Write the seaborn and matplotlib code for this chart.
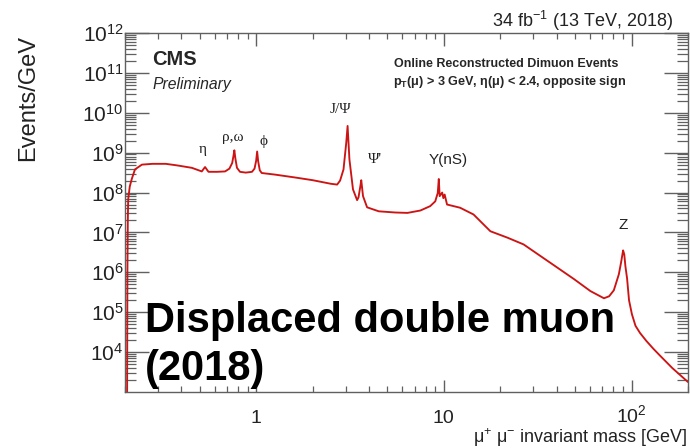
import numpy as np
import pandas as pd
import matplotlib
matplotlib.use("Agg")
import matplotlib.pyplot as plt
from matplotlib.ticker import LogLocator, FixedLocator, FixedFormatter, NullFormatter, FuncFormatter
import seaborn as sns

# Dimuon invariant-mass spectrum (GeV) and event density (log10 Events/GeV)
mass = [0.205, 0.206, 0.207, 0.208, 0.212, 0.217, 0.226, 0.246, 0.28, 0.33,
        0.38, 0.454, 0.513, 0.534, 0.557, 0.62, 0.683, 0.72, 0.745, 0.757,
        0.765, 0.775, 0.79, 0.82, 0.88, 0.95, 0.98, 1.0, 1.012, 1.025,
        1.045, 1.07, 1.26, 1.6, 2.0, 2.5, 2.7, 2.8, 2.92, 3.02,
        3.07, 3.14, 3.28, 3.45, 3.51, 3.59, 3.63, 3.71, 3.9, 4.5,
        5.5, 6.4, 7.5, 8.46, 9.0, 9.28, 9.4, 9.5, 9.8, 9.94,
        10.1, 10.4, 12.2, 14.4, 17.7, 21.8, 26.6, 32.7, 40.2, 49.4,
        60.4, 71.3, 76.0, 80.5, 85.6, 88.0, 90.2, 91.5, 92.8, 94.7,
        97.0, 100.5, 105.0, 111.0, 120.0, 131.0, 142.0, 165.0, 200.0]
log_events = [2.0, 6.0, 7.3, 7.83, 8.15, 8.33, 8.58, 8.70, 8.72, 8.72,
              8.68, 8.62, 8.53, 8.64, 8.52, 8.52, 8.53, 8.60, 8.74, 8.92,
              9.06, 8.85, 8.62, 8.52, 8.50, 8.52, 8.60, 8.80, 9.03, 8.78,
              8.56, 8.49, 8.45, 8.38, 8.31, 8.22, 8.20, 8.30, 8.58, 9.25,
              9.67, 8.83, 8.08, 7.81, 7.88, 8.16, 8.31, 7.91, 7.63, 7.53,
              7.50, 7.49, 7.55, 7.66, 7.78, 7.99, 8.34, 7.91, 8.0, 7.86,
              7.95, 7.70, 7.62, 7.45, 7.03, 6.87, 6.70, 6.41, 6.12, 5.83,
              5.53, 5.35, 5.40, 5.55, 5.95, 6.25, 6.55, 6.45, 6.15, 5.85,
              5.30, 4.95, 4.66, 4.48, 4.28, 4.08, 3.91, 3.60, 3.25]

# Resonance labels: text, mass, height, font style
peak_labels = [("η", 0.52, 1.19e9, "serif"),
               ("ρ,ω", 0.754, 2.37e9, "serif"),
               ("ϕ", 1.09, 1.88e9, "serif"),
               ("J/Ψ", 2.81, 1.19e10, "serif"),
               ("Ψ'", 4.31, 6.7e8, "serif"),
               ("Y(nS)", 10.6, 6.7e8, "sans"),
               ("Z", 90.6, 1.58e7, "sans")]

x_major = [1, 10, 100]
x_major_labels = ["1", "10", r"$10^{2}$"]

sns.set_style("ticks")
plt.rcParams["font.family"] = ["Liberation Sans", "DejaVu Sans"]
plt.rcParams["mathtext.fontset"] = "custom"
plt.rcParams["mathtext.rm"] = "Liberation Sans"
plt.rcParams["mathtext.it"] = "Liberation Sans:italic"
plt.rcParams["mathtext.bf"] = "Liberation Sans:bold"

df = pd.DataFrame({"mass": mass, "events": np.power(10.0, log_events)})

fig = plt.figure(figsize=(6.9, 4.48), dpi=100)
ax = fig.add_axes([125 / 690, 1 - 392 / 448, 563 / 690, 359 / 448])

sns.lineplot(data=df, x="mass", y="events", ax=ax, color="#cc1414",
             linewidth=1.35, estimator=None, sort=False)

ax.set_xscale("log")
ax.set_yscale("log")
ax.set_xlim(0.2, 200)
ax.set_ylim(1e3, 1e12)
ax.set_xlabel("")
ax.set_ylabel("")

frame = "#606060"
for s in ax.spines.values():
    s.set_color(frame)
    s.set_linewidth(1.0)
    s.set_visible(True)

ax.xaxis.set_major_locator(FixedLocator(x_major))
ax.xaxis.set_major_formatter(FixedFormatter(x_major_labels))
ax.xaxis.set_minor_locator(LogLocator(base=10, subs=np.arange(2, 10), numticks=20))
ax.xaxis.set_minor_formatter(NullFormatter())
ax.yaxis.set_major_locator(FixedLocator([10.0 ** k for k in range(4, 13)]))
ax.yaxis.set_minor_locator(LogLocator(base=10, subs=np.arange(2, 10), numticks=20))
ax.yaxis.set_minor_formatter(NullFormatter())
ax.yaxis.set_major_formatter(
    FuncFormatter(lambda v, p: r"$10^{%d}$" % round(np.log10(v))))

ax.tick_params(axis="x", which="major", direction="in", length=9, width=1.0,
               color=frame, top=True, bottom=True, labelsize=14,
               labelcolor="#222222", pad=22)
ax.tick_params(axis="x", which="minor", direction="in", length=4.5, width=0.9,
               color=frame, top=True, bottom=True)
ax.tick_params(axis="y", which="major", direction="in", length=17, width=1.0,
               color=frame, left=True, right=True, labelsize=15,
               labelcolor="#222222", pad=1)
ax.tick_params(axis="y", which="minor", direction="in", length=8, width=0.9,
               color=frame, left=True, right=True)
for lbl in ax.get_xticklabels():
    lbl.set_va("baseline")

for text, m, h, fam in peak_labels:
    family = ["Liberation Serif", "DejaVu Serif"] if fam == "serif" else ["Liberation Sans", "DejaVu Sans"]
    ax.text(m, h, text, ha="center", va="center", fontsize=11, family=family,
            color="#222222")

ax.text(0.048, 0.953, "CMS", transform=ax.transAxes, ha="left", va="top",
        fontsize=14.5, fontweight="bold")
ax.text(0.048, 0.877, "Preliminary", transform=ax.transAxes, ha="left",
        va="top", fontsize=11.3, style="italic")
ax.text(0.677, 0.914, "Online Reconstructed Dimuon Events",
        transform=ax.transAxes, ha="center", va="center", fontsize=9.0,
        fontweight="bold")
ax.text(0.476, 0.864, r"p$_\mathbf{T}$(μ) > 3 GeV, η(μ) < 2.4, opposite sign",
        transform=ax.transAxes, ha="left", va="center", fontsize=9.1,
        fontweight="bold")

ax.text(0.0355, 0.167, "Displaced double muon", transform=ax.transAxes,
        ha="left", va="baseline", fontsize=30, fontweight="bold", color="black")
ax.text(0.0355, 0.033, "(2018)", transform=ax.transAxes,
        ha="left", va="baseline", fontsize=30, fontweight="bold", color="black")

fig.text(673 / 690, 1 - 27 / 448, r"34 fb$^{-1}$ (13 TeV, 2018)", ha="right",
         va="baseline", fontsize=13, color="#222222")
fig.text(28 / 690, 1 - 98 / 448, "Events/GeV", rotation=90, ha="center",
         va="center", fontsize=17, color="#222222")
fig.text(688 / 690, 1 - 443 / 448, r"$\mathrm{\mu}^{+}$ $\mathrm{\mu}^{-}$ invariant mass [GeV]",
         ha="right", va="baseline", fontsize=13, color="#222222")

fig.savefig("out.png", dpi=100)
